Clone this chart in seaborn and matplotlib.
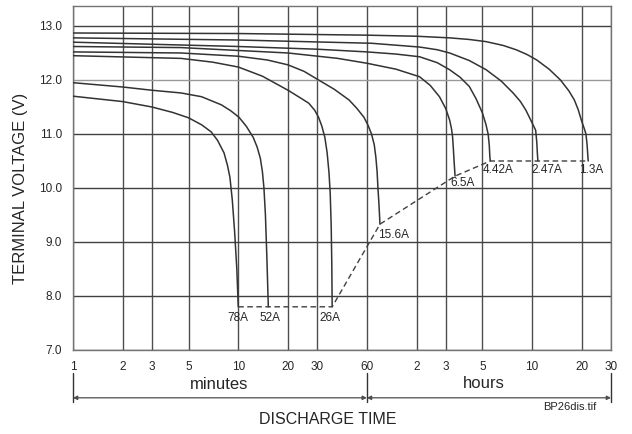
'''
Battery discharge curves (terminal voltage vs. discharge time)
'''

import matplotlib
matplotlib.use('Agg')
import matplotlib.pyplot as plt
import pandas as pd
import seaborn as sns

# discharge time in minutes, voltage in V
t_1_3 = [1, 10, 60, 120, 190, 250, 316, 400, 480, 560, 640, 760, 890,
         1000, 1080, 1140, 1190, 1240, 1270, 1290, 1300, 1310]
v_1_3 = [12.87, 12.86, 12.83, 12.81, 12.78, 12.75, 12.71, 12.64, 12.56,
         12.47, 12.37, 12.20, 12.00, 11.80, 11.63, 11.45, 11.26, 11.10,
         11.00, 10.80, 10.65, 10.50]

t_2_47 = [1, 10, 64, 125, 160, 190, 250, 316, 390, 460, 510, 550, 590,
          630, 640, 645, 650]
v_2_47 = [12.78, 12.74, 12.68, 12.61, 12.56, 12.50, 12.36, 12.19, 11.98,
          11.76, 11.60, 11.44, 11.25, 11.07, 10.85, 10.65, 10.50]

t_4_42 = [1, 10, 30, 60, 90, 125, 160, 190, 220, 250, 275, 300, 315, 325,
          330, 333, 335]
v_4_42 = [12.70, 12.62, 12.57, 12.52, 12.48, 12.43, 12.32, 12.19, 12.05,
          11.88, 11.65, 11.39, 11.18, 11.00, 10.80, 10.57, 10.50]

t_6_5 = [1, 4.5, 20, 40, 60, 90, 125, 145, 165, 180, 190, 195, 198, 200,
         202, 205]
v_6_5 = [12.62, 12.60, 12.50, 12.40, 12.31, 12.20, 12.06, 11.90, 11.69,
         11.47, 11.26, 11.10, 10.95, 10.75, 10.52, 10.22]

t_15_6 = [1, 4.5, 10, 15, 20, 25, 30.6, 38, 46.8, 52, 57.6, 61, 64, 66.5,
          68, 69.2, 70, 71, 72]
v_15_6 = [12.52, 12.50, 12.44, 12.37, 12.28, 12.16, 12.00, 11.83, 11.63,
          11.48, 11.31, 11.16, 11.00, 10.80, 10.57, 10.30, 10.00, 9.70, 9.33]

t_26 = [1, 4.5, 7, 10, 14, 20, 24, 26.7, 29, 30.6, 32, 33.4, 34.5, 35.4,
        36, 36.5, 36.8, 37]
v_26 = [12.45, 12.40, 12.33, 12.24, 12.07, 11.81, 11.66, 11.57, 11.44,
        11.31, 11.15, 10.94, 10.65, 10.28, 9.90, 9.30, 8.60, 7.80]

t_52 = [1, 2, 3, 4.5, 6, 7.9, 9, 10.1, 11.2, 12.3, 13, 13.6, 14.0, 14.3,
        14.6, 14.9, 15.2]
v_52 = [11.95, 11.87, 11.81, 11.76, 11.69, 11.54, 11.43, 11.31, 11.14,
        10.94, 10.76, 10.55, 10.30, 10.00, 9.50, 8.70, 7.80]

t_78 = [1, 2, 3, 4, 5, 6, 6.85, 7.5, 8.2, 8.6, 8.9, 9.2, 9.5, 9.8, 10]
v_78 = [11.70, 11.60, 11.50, 11.40, 11.30, 11.17, 11.04, 10.88, 10.65,
        10.42, 10.20, 9.78, 9.20, 8.50, 7.80]

curves = {'78A': (t_78, v_78), '52A': (t_52, v_52), '26A': (t_26, v_26),
          '15.6A': (t_15_6, v_15_6), '6.5A': (t_6_5, v_6_5),
          '4.42A': (t_4_42, v_4_42), '2.47A': (t_2_47, v_2_47),
          '1.3A': (t_1_3, v_1_3)}

# end-of-discharge voltage line
end_t = [10, 37, 72, 205, 335, 1310]
end_v = [7.8, 7.8, 9.33, 10.22, 10.5, 10.5]

# current labels (centre of each text)
label_t = [10, 15.6, 35.9, 87.6, 228, 376, 735, 1364]
label_v = [7.59, 7.59, 7.59, 9.13, 10.09, 10.33, 10.33, 10.33]
label_txt = ['78A', '52A', '26A', '15.6A', '6.5A', '4.42A', '2.47A', '1.3A']

tick_pos = [1, 2, 3, 5, 10, 20, 30, 60, 120, 180, 300, 600, 1200, 1800]
tick_lbl = ['1', '2', '3', '5', '10', '20', '30', '60', '2', '3', '5', '10', '20', '30']
y_ticks = [7.0, 8.0, 9.0, 10.0, 11.0, 12.0, 13.0]

rows = []
for name, (ts, vs) in curves.items():
    for t, v in zip(ts, vs):
        rows.append({'curve': name, 't': t, 'v': v})
df = pd.DataFrame(rows)

sns.set_style('white')
plt.rcParams['font.family'] = ['Liberation Sans', 'DejaVu Sans']

fig = plt.figure(figsize=(6.32, 4.34), dpi=100)
ax = fig.add_axes([73 / 632, 84 / 434, 538 / 632, 344 / 434])
ax.set_xscale('log')

# grid
for x in tick_pos:
    ax.axvline(x, color='0.3', lw=1.0, zorder=1)
for y in y_ticks:
    ax.axhline(y, color='0.6' if y == 12.0 else '0.25', lw=1.0, zorder=1)

sns.lineplot(data=df, x='t', y='v', units='curve', estimator=None,
             sort=False, color='0.2', lw=1.1, ax=ax, zorder=3)
sns.lineplot(x=end_t, y=end_v, sort=False, estimator=None, color='0.25',
             lw=1.0, ax=ax, zorder=3)
ax.lines[-1].set_dashes((4, 2.5))

for t, v, s in zip(label_t, label_v, label_txt):
    ax.text(t, v, s, ha='center', va='center', fontsize=8.5, color='0.15',
            zorder=4)

ax.set_xlim(1, 1800)
ax.set_ylim(7.0, 13.37)
ax.set_xticks(tick_pos)
ax.set_xticklabels(tick_lbl)
ax.xaxis.set_minor_locator(plt.NullLocator())
ax.set_yticks(y_ticks)
ax.set_yticklabels([f'{y:.1f}' for y in y_ticks])
ax.tick_params(axis='both', length=0, labelsize=8.5, colors='0.15')
ax.tick_params(axis='x', pad=8)
ax.tick_params(axis='y', pad=8)
for sp in ax.spines.values():
    sp.set_color('0.45')
    sp.set_linewidth(1.0)

ax.set_ylabel('TERMINAL VOLTAGE (V)', fontsize=12, color='0.15')
ax.yaxis.label.set_va('center')
ax.yaxis.set_label_coords(-0.0985, 0.47)
ax.set_xlabel('DISCHARGE TIME', fontsize=11.5, color='0.15')
ax.xaxis.label.set_va('center')
ax.xaxis.set_label_coords(0.474, -0.203)

# minutes / hours brackets below the axis
tr = ax.get_xaxis_transform()
for x in [1, 60, 1800]:
    ax.plot([x, x], [-0.067, -0.151], transform=tr, color='0.2', lw=1.0,
            clip_on=False)
arrow = dict(arrowstyle='<|-|>', color='0.3', lw=0.9, mutation_scale=6,
             shrinkA=0, shrinkB=0)
ax.annotate('', xy=(1, -0.139), xytext=(60, -0.139), xycoords=tr,
            textcoords=tr, arrowprops=arrow)
ax.annotate('', xy=(60, -0.139), xytext=(1800, -0.139), xycoords=tr,
            textcoords=tr, arrowprops=arrow)
ax.text(7.66, -0.099, 'minutes', transform=tr, ha='center', va='center',
        fontsize=12, color='0.15')
ax.text(307, -0.096, 'hours', transform=tr, ha='center', va='center',
        fontsize=12, color='0.15')
ax.text(0.924, -0.166, 'BP26dis.tif', transform=ax.transAxes, ha='center',
        va='center', fontsize=8, color='0.15')

fig.savefig('out.png', dpi=100)
